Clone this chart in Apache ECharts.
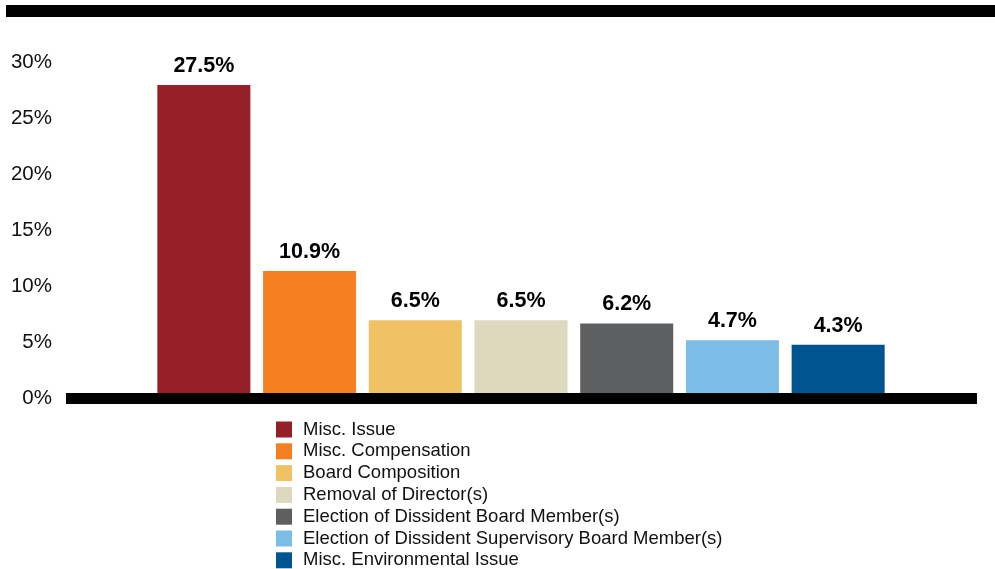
<!DOCTYPE html>
<html>
<head>
<meta charset="utf-8">
<script src="https://cdn.jsdelivr.net/npm/echarts@6/dist/echarts.min.js"></script>
<style>html,body{margin:0;padding:0;background:#fff;}#c{width:995px;height:569px;}</style>
</head>
<body>
<div id="c"></div>
<script>
var categories = ["Misc. Issue","Misc. Compensation","Board Composition","Removal of Director(s)","Election of Dissident Board Member(s)","Election of Dissident Supervisory Board Member(s)","Misc. Environmental Issue"];
var values = [27.5, 10.9, 6.5, 6.5, 6.2, 4.7, 4.3];
var colors = ["#962027","#F58024","#F0C165","#DDD8BE","#5E5F61","#7BBDE7","#00548F"];
var yTicks = [0, 5, 10, 15, 20, 25, 30];

var FONT = 'Liberation Sans, Arial, sans-serif';
var series = categories.map(function(name, i){
  var d = categories.map(function(_, j){ return j === i ? values[i] : null; });
  return {
    name: name, type: 'bar', stack: 'all', data: d, barWidth: 93,
    itemStyle: {color: colors[i]},
    label: {show: true, position: 'top', distance: 8, color: '#000',
      fontFamily: FONT, fontWeight: 'bold', fontSize: 21.5,
      formatter: function(p){ return p.value.toFixed(1) + '%'; }}
  };
});

var chart = echarts.init(document.getElementById('c'), null, {renderer: 'canvas'});
chart.setOption({
  animation: false,
  backgroundColor: '#fff',
  grid: {left: 151, right: 104, top: 57, bottom: 176},
  xAxis: {type: 'category', data: categories, axisLine: {show: false}, axisTick: {show: false}, axisLabel: {show: false}},
  yAxis: {type: 'value', min: yTicks[0], max: yTicks[yTicks.length-1], interval: 5,
    splitLine: {show: false}, axisLine: {show: false}, axisTick: {show: false},
    axisLabel: {margin: 99, color: '#111', fontSize: 20.5, fontFamily: FONT,
      formatter: function(v){ return '{a|' + v + '%}'; },
      rich: {a: {fontSize: 20.5, fontFamily: FONT, color: '#111', padding: [10, 0, 0, 0]}}}},
  legend: {orient: 'vertical', left: 271, top: 415, height: 220, itemWidth: 16, itemHeight: 16, itemGap: 2.8,
    icon: 'rect', data: categories,
    textStyle: {fontSize: 18.5, color: '#111', fontFamily: FONT, padding: [0,0,0,6]}},
  graphic: [
    {type: 'rect', shape: {x: 6, y: 5, width: 989, height: 12}, style: {fill: '#000'}},
    {type: 'rect', shape: {x: 66, y: 393, width: 911, height: 11}, style: {fill: '#000'}, z: 10}
  ],
  series: series
});
</script>
</body>
</html>
